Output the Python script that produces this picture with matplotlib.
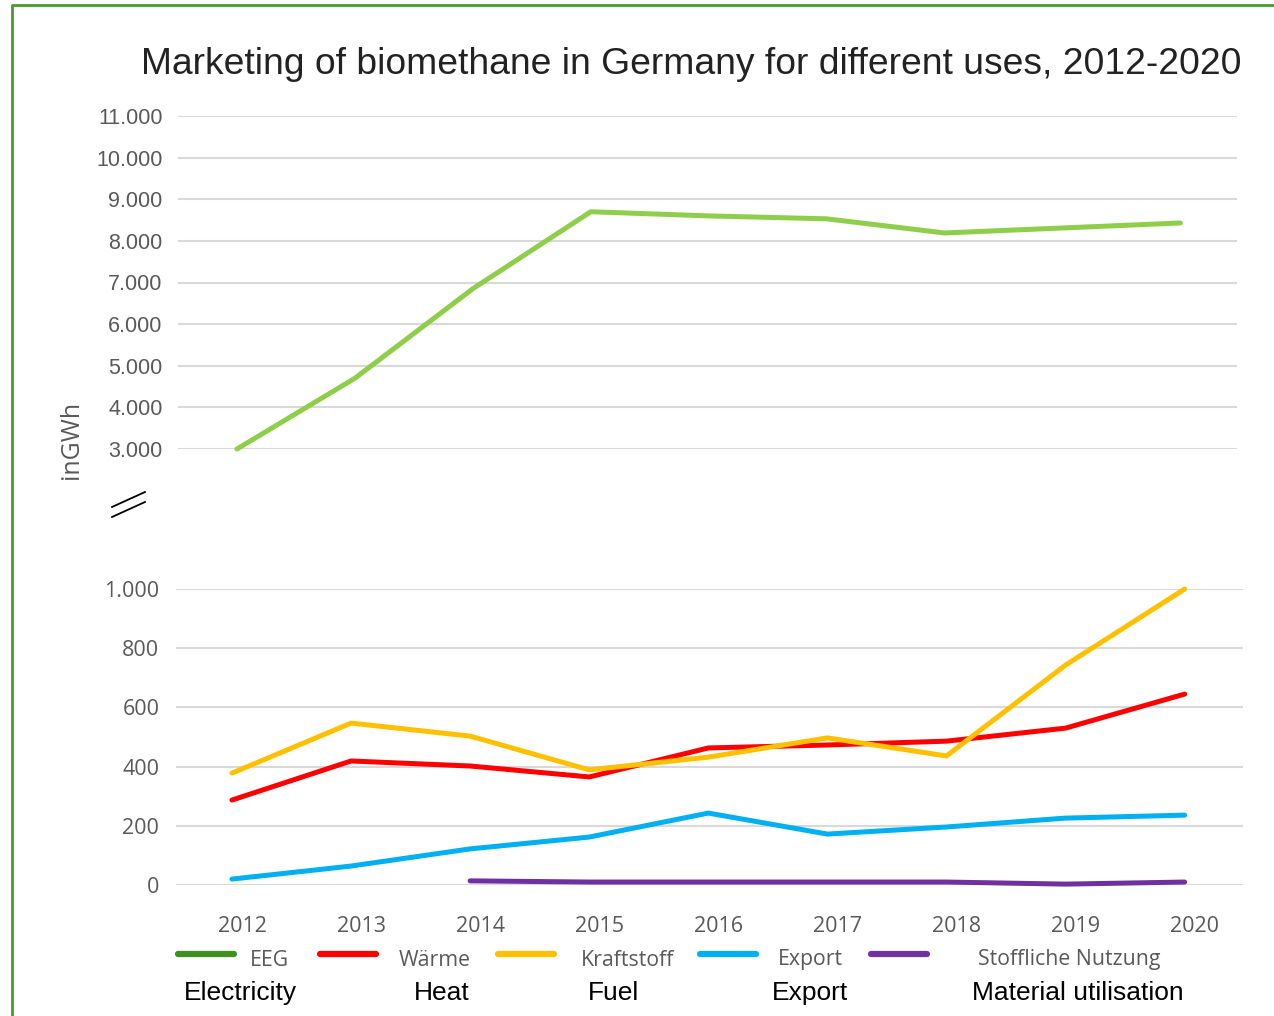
import matplotlib.pyplot as plt
from matplotlib.lines import Line2D
import matplotlib.transforms as mtransforms

years = [2012, 2013, 2014, 2015, 2016, 2017, 2018, 2019, 2020]
eeg = [3000, 4700, 6850, 8700, 8600, 8530, 8190, 8310, 8430]
waerme = [287, 419, 402, 365, 463, 473, 486, 530, 645]
kraftstoff = [378, 547, 503, 389, 432, 497, 436, 743, 1000]
export = [20, 64, 122, 162, 243, 172, 196, 226, 236]
stoff_years = [2014, 2015, 2016, 2017, 2018, 2019, 2020]
stoffliche = [14, 10, 10, 10, 10, 3, 10]

top_ticks = [3000, 4000, 5000, 6000, 7000, 8000, 9000, 10000, 11000]
bottom_ticks = [0, 200, 400, 600, 800, 1000]

labels_de = ['EEG', 'Wärme', 'Kraftstoff', 'Export', 'Stoffliche Nutzung']
labels_en = ['Electricity', 'Heat', 'Fuel', 'Export', 'Material utilisation']

c_eeg = '#8fce4a'
c_eeg_leg = '#3f8f22'
c_waerme = '#ff0000'
c_kraft = '#ffc000'
c_export = '#00b0f0'
c_stoff = '#7030a0'
grid_c = '#d9d9d9'
txt_c = '#595959'
LW = 3.6

W, H = 1274, 1016
fig = plt.figure(figsize=(W / 100, H / 100), dpi=100)

def fx(px):
    return px / W

def fy(py):
    return 1 - py / H

# top panel (EEG)
ax1 = fig.add_axes([fx(178), fy(449), fx(1237 - 178), (449 - 116) / H])
ax1.plot(years, eeg, color=c_eeg, lw=LW, clip_on=False, solid_capstyle='round')
ax1.set_ylim(3000, 11000)
ax1.set_xlim(2011.5, 2020.48)
ax1.set_yticks(top_ticks)
ax1.set_yticklabels([f'{v:,}'.replace(',', '.') for v in top_ticks],
                    fontsize=15.5, color=txt_c, family='Liberation Sans')
ax1.set_xticks([])
ax1.tick_params(axis='y', length=0, pad=11)
ax1.grid(axis='y', color=grid_c, lw=1.5)
ax1.set_axisbelow(True)
for s in ax1.spines.values():
    s.set_visible(False)

# bottom panel
ax2 = fig.add_axes([fx(176), fy(885), fx(1243 - 176), (885 - 589) / H])
ax2.plot(years, waerme, color=c_waerme, lw=LW, clip_on=False, solid_capstyle='round')
ax2.plot(years, kraftstoff, color=c_kraft, lw=LW, clip_on=False, solid_capstyle='round')
ax2.plot(years, export, color=c_export, lw=LW, clip_on=False, solid_capstyle='round')
ax2.plot(stoff_years, stoffliche, color=c_stoff, lw=LW, clip_on=False, solid_capstyle='round')
ax2.set_ylim(0, 1000)
ax2.set_xlim(2011.53, 2020.49)
ax2.set_yticks(bottom_ticks)
ax2.set_yticklabels([f'{v:,}'.replace(',', '.') for v in bottom_ticks],
                    fontsize=15.5, color=txt_c, family='Open Sans')
ax2.set_xticks(years)
ax2.set_xticklabels([str(y) for y in years], fontsize=15.5, color=txt_c, family='Open Sans')
ax2.tick_params(axis='y', length=0, pad=12)
ax2.tick_params(axis='x', length=0, pad=22)
offset = mtransforms.ScaledTranslation(10 / 100, 0, fig.dpi_scale_trans)
for lab in ax2.get_xticklabels():
    lab.set_transform(lab.get_transform() + offset)
ax2.grid(axis='y', color=grid_c, lw=1.5)
ax2.set_axisbelow(True)
for s in ax2.spines.values():
    s.set_visible(False)

# title and y label
fig.text(fx(691), fy(64), 'Marketing of biomethane in Germany for different uses, 2012-2020',
         ha='center', va='center', fontsize=26.8, color='#222222', family='Liberation Sans')
fig.text(fx(72), fy(440), 'inGWh', rotation=90, ha='center', va='center',
         fontsize=18, color=txt_c, family='Open Sans')

# axis break marks
for dy in (0, 10):
    fig.add_artist(Line2D([fx(112), fx(145)], [fy(507 + dy), fy(492 + dy)],
                          color='black', lw=1.3))

# legend
handle_x = [176, 318, 496, 698, 869]
de_x = [269, 435, 628, 810, 1069]
en_x = [240, 442, 613, 810, 1078]
leg_colors = [c_eeg_leg, c_waerme, c_kraft, c_export, c_stoff]
for hx, dx, ex, c, de, en in zip(handle_x, de_x, en_x, leg_colors, labels_de, labels_en):
    fig.add_artist(Line2D([fx(hx + 2), fx(hx + 58)], [fy(954), fy(954)], color=c, lw=4.5,
                          solid_capstyle='round'))
    fig.text(fx(dx), fy(960), de, ha='center', va='center', fontsize=15.3,
             color=txt_c, family='Open Sans')
    fig.text(fx(ex), fy(993), en, ha='center', va='center', fontsize=19,
             color='black', family='Liberation Sans')

# green frame (top and left)
fig.add_artist(Line2D([fx(12), fx(12), fx(1280)], [fy(1030), fy(5), fy(5)],
                      color='#4a9a2a', lw=2))

fig.savefig('out.png', dpi=100)
